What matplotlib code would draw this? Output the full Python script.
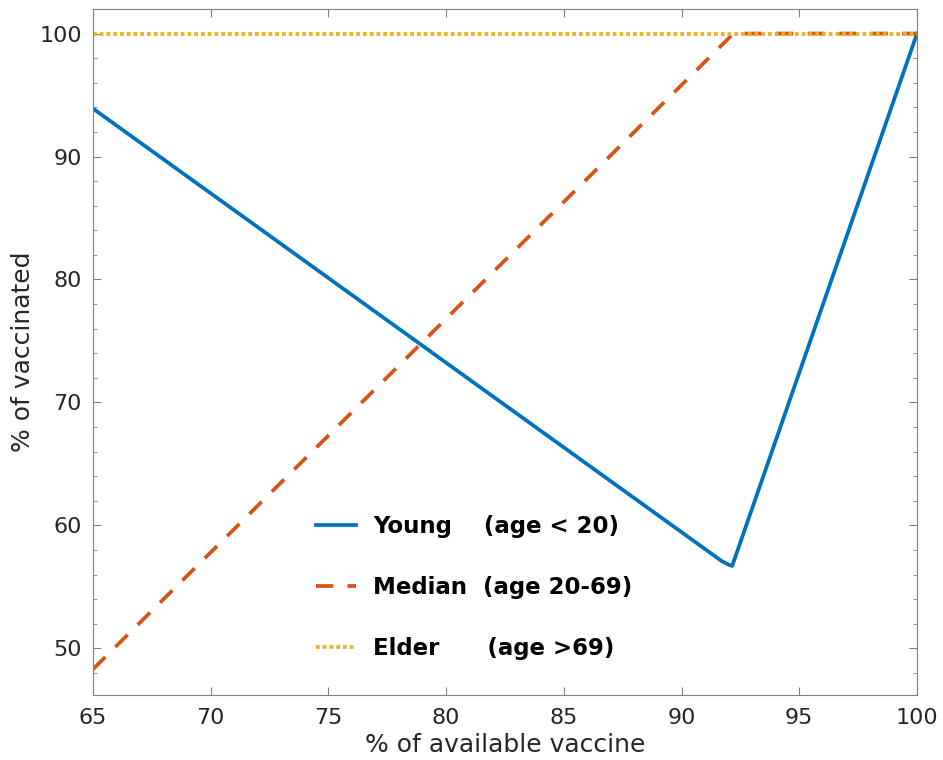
import numpy as np
import matplotlib.pyplot as plt
from matplotlib.ticker import MultipleLocator

plt.rcParams.update({'font.size': 16,
                     'axes.edgecolor': '#808080',
                     'xtick.color': '#808080',
                     'ytick.color': '#808080',
                     'xtick.labelcolor': '#262626',
                     'ytick.labelcolor': '#262626'})

# % of available vaccine vs. % vaccinated in each age group
young_x = [65, 91.7, 92.0, 92.15, 100]
young_y = [93.9, 57.1, 56.8, 56.7, 100]
median_x = [65, 92.2, 100]
median_y = [48.3, 100, 100]
elder_x = [65, 100]
elder_y = [100, 100]

labels = ["Young    (age < 20)",
          "Median  (age 20-69)",
          "Elder      (age >69)"]

fig = plt.figure(figsize=(9.43, 7.6), dpi=100)
ax = fig.add_axes([93/943, 65/760, 824/943, 686/760])

ax.plot(young_x, young_y, "-", color="#0072BD", lw=2.7, label=labels[0])
ax.plot(median_x, median_y, "--", color="#D95319", lw=2.7, dashes=(4.6, 3.8), label=labels[1])
ax.plot(elder_x, elder_y, ":", color="#EDB120", lw=2.7, dashes=(1, 0.8), label=labels[2])

ax.set_xlim(65, 100)
ax.set_ylim(46.2, 102)
ax.xaxis.set_major_locator(MultipleLocator(5))
ax.yaxis.set_major_locator(MultipleLocator(10))
ax.yaxis.set_minor_locator(MultipleLocator(2))
ax.tick_params(which='both', direction='in', top=True, right=True)
ax.tick_params(which='major', length=6)
ax.tick_params(which='minor', length=3)
ax.tick_params(axis='both', labelsize=16)
ax.tick_params(axis='x', pad=9)
ax.tick_params(axis='y', pad=8)

ax.set_xlabel("% of available vaccine", color='#262626', fontsize=18, labelpad=4)
ax.set_ylabel("% of vaccinated", color='#262626', fontsize=18, labelpad=3)

leg = ax.legend(loc='center left', bbox_to_anchor=(0.245, 0.157), frameon=False,
                prop={'weight': 'bold', 'size': 16.5}, handlelength=1.75,
                handletextpad=0.75, labelspacing=1.65)

fig.savefig("out.png", dpi=100)
